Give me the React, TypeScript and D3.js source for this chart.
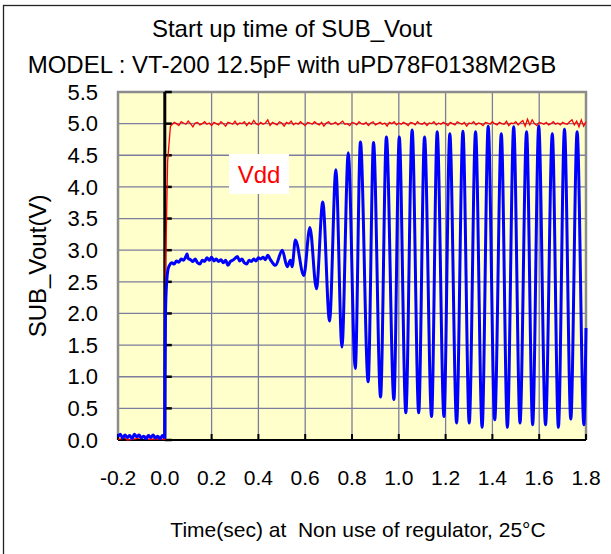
import React from "react";
import * as d3 from "d3";

// SUB_Vout trace, [time (s), volts]
const subVout: [number, number][] = [
  [-0.2, 0.05], [-0.19, 0.09], [-0.18, 0.03], [-0.17, 0.08], [-0.16, 0.04],
  [-0.15, 0.07], [-0.14, 0.02], [-0.13, 0.09], [-0.12, 0.05], [-0.11, 0.08],
  [-0.1, 0.03], [-0.09, 0.06], [-0.08, 0.02], [-0.07, 0.07], [-0.06, 0.04],
  [-0.05, 0.08], [-0.04, 0.03], [-0.03, 0.06], [-0.02, 0.02], [-0.01, 0.07],
  [0.0, 0.04], [0.001, 1.0], [0.003, 2.0], [0.008, 2.5], [0.014, 2.7],
  [0.02, 2.76], [0.03, 2.8], [0.04, 2.78], [0.05, 2.83], [0.06, 2.81],
  [0.07, 2.86], [0.08, 2.84], [0.09, 2.9], [0.095, 2.94], [0.1, 2.87],
  [0.11, 2.85], [0.12, 2.82], [0.13, 2.86], [0.14, 2.8], [0.15, 2.78],
  [0.16, 2.84], [0.17, 2.82], [0.18, 2.88], [0.19, 2.84], [0.2, 2.89],
  [0.21, 2.83], [0.22, 2.86], [0.23, 2.82], [0.24, 2.85], [0.25, 2.8],
  [0.26, 2.84], [0.27, 2.76], [0.28, 2.82], [0.29, 2.84], [0.3, 2.87],
  [0.31, 2.9], [0.32, 2.83], [0.33, 2.86], [0.34, 2.8], [0.35, 2.78],
  [0.36, 2.84], [0.37, 2.82], [0.38, 2.86], [0.39, 2.83], [0.4, 2.88],
  [0.41, 2.86], [0.42, 2.89], [0.43, 2.85], [0.44, 2.92], [0.45, 2.86],
  [0.473, 2.76], [0.502, 3.0], [0.523, 2.74], [0.537, 2.84], [0.544, 2.74],
  [0.558, 3.16], [0.594, 2.6], [0.62, 3.36], [0.648, 2.39], [0.675, 3.76],
  [0.704, 1.88], [0.731, 4.27], [0.757, 1.47], [0.784, 4.54], [0.814, 1.13],
  [0.836, 4.71], [0.869, 0.92], [0.892, 4.7], [0.922, 0.68], [0.947, 4.79],
  [0.979, 0.64], [1.002, 4.79], [1.03, 0.43], [1.057, 4.9], [1.085, 0.43],
  [1.11, 4.79], [1.14, 0.37], [1.164, 4.87], [1.193, 0.37], [1.218, 4.84],
  [1.247, 0.27], [1.274, 4.88], [1.301, 0.27], [1.328, 4.87], [1.356, 0.2],
  [1.382, 4.96], [1.41, 0.32], [1.438, 4.84], [1.464, 0.2], [1.491, 4.95],
  [1.518, 0.27], [1.546, 4.87], [1.572, 0.24], [1.598, 4.96], [1.627, 0.24],
  [1.656, 4.84], [1.682, 0.2], [1.708, 4.91], [1.735, 0.33], [1.762, 4.87],
  [1.791, 0.24], [1.8, 1.77],
];

// Vdd: the part before and during power-on
const vddEdgeT = [-0.2, -0.17, -0.16, -0.12, -0.08, -0.07, -0.03, 0.0, 0.004, 0.012, 0.024];
const vddEdgeV = [0.01, 0.03, 0.0, 0.02, 0.06, 0.01, 0.02, 0.01, 2.8, 4.4, 4.96];

// Vdd after power-on, sampled every 10 ms from 0.03 s
const vddStart = 0.03;
const vddStep = 0.01;
const vddSettled = [
  4.98, 5.02, 5.0, 4.97, 5.03, 5.01, 4.99, 5.04, 5.0, 4.95,
  5.01, 5.02, 4.98, 5.0, 5.03, 4.99, 5.01, 4.97, 5.02, 5.0,
  4.98, 5.03, 5.0, 4.96, 5.02, 5.01, 4.99, 5.04, 4.98, 5.01,
  5.0, 5.03, 4.97, 5.02, 4.99, 5.05, 5.0, 4.98, 5.02, 4.99,
  5.01, 5.06, 4.97, 5.02, 5.0, 4.98, 5.03, 5.01, 4.96, 5.02,
  5.0, 5.04, 4.98, 5.01, 4.99, 5.03, 5.0, 4.97, 5.02, 5.01,
  4.99, 5.03, 5.0, 4.98, 5.02, 4.96, 5.01, 5.03, 4.99, 5.0,
  5.02, 4.98, 5.01, 5.04, 4.99, 5.0, 4.97, 5.02, 5.01, 4.98,
  5.03, 5.0, 4.99, 5.02, 4.97, 5.01, 5.03, 4.98, 5.0, 5.02,
  4.99, 5.01, 4.96, 5.02, 5.0, 5.03, 4.98, 5.01, 4.99, 5.02,
  5.0, 4.97, 5.02, 5.01, 4.98, 5.03, 5.0, 4.99, 5.02, 4.97,
  5.01, 5.0, 5.03, 4.98, 5.01, 4.99, 5.02, 5.0, 4.97, 5.02,
  5.0, 4.98, 5.03, 5.01, 4.99, 5.02, 4.96, 5.01, 5.0, 5.03,
  4.98, 5.01, 5.0, 4.97, 5.02, 5.01, 4.99, 5.03, 5.0, 4.98,
  5.02, 5.0, 4.99, 5.04, 4.97, 5.01, 5.0, 5.03, 4.98, 5.02,
  5.05, 4.96, 5.07, 4.98, 5.06, 5.0, 4.97, 5.02, 5.01, 4.99,
  5.02, 4.98, 5.0, 5.03, 4.99, 5.01, 4.98, 5.02, 5.0, 4.99,
  5.03, 5.06, 4.98, 5.04, 4.95, 5.06, 4.96, 5.03,
];

const xTicks = [-0.2, 0.0, 0.2, 0.4, 0.6, 0.8, 1.0, 1.2, 1.4, 1.6, 1.8];
const yTicks = [0.0, 0.5, 1.0, 1.5, 2.0, 2.5, 3.0, 3.5, 4.0, 4.5, 5.0, 5.5];

const titleLines = ["Start up time of SUB_Vout", "MODEL : VT-200 12.5pF with uPD78F0138M2GB"];
const xTitle = "Time(sec) at  Non use of regulator, 25\u00B0C";
const yTitle = "SUB_Vout(V)";
const seriesLabel = "Vdd";

const font = "'Liberation Sans', Arial, sans-serif";

export default function App() {
  const plot = { left: 118, right: 586, top: 92, bottom: 440 };

  const x = d3.scaleLinear().domain([-0.2, 1.8]).range([plot.left, plot.right]);
  const y = d3.scaleLinear().domain([0, 5.5]).range([plot.bottom, plot.top]);

  const vdd: [number, number][] = [
    ...vddEdgeT.map((t, i) => [t, vddEdgeV[i]] as [number, number]),
    ...vddSettled.map((v, i) => [vddStart + i * vddStep, v] as [number, number]),
  ];

  const sharp = d3
    .line<[number, number]>()
    .x((d) => x(d[0]))
    .y((d) => y(d[1]));

  const smooth = d3
    .line<[number, number]>()
    .x((d) => x(d[0]))
    .y((d) => y(d[1]))
    .curve(d3.curveMonotoneX);

  const gridX = xTicks.filter((t) => t > 0 && t < 1.8);
  const gridY = yTicks.filter((t) => t > 0 && t < 5.5);

  return (
    <svg
      width={611}
      height={554}
      style={{ position: "absolute", left: 0, top: 0, background: "#fff" }}
      fontFamily={font}
    >
      <rect x={3.5} y={5.5} width={700} height={700} fill="#fff" stroke="#222" strokeWidth={1.3} />

      {titleLines.map((s, i) => (
        <text key={s} x={292} y={37 + i * 36} textAnchor="middle" fontSize={24} fill="#000">
          {s}
        </text>
      ))}

      <rect
        x={plot.left}
        y={plot.top}
        width={plot.right - plot.left}
        height={plot.bottom - plot.top}
        fill="#ffffcc"
      />

      {gridY.map((v) => (
        <line key={"gy" + v} x1={plot.left} x2={plot.right} y1={y(v)} y2={y(v)} stroke="#7c7c9c" strokeWidth={1.3} />
      ))}
      {gridX.map((t) => (
        <line key={"gx" + t} x1={x(t)} x2={x(t)} y1={plot.top} y2={plot.bottom} stroke="#7c7c9c" strokeWidth={1.3} />
      ))}

      {/* plot frame */}
      <path
        d={`M${plot.left},${plot.bottom}V${plot.top}H${plot.right}V${plot.bottom}`}
        fill="none"
        stroke="#8c8c8c"
        strokeWidth={2.5}
      />

      {/* bottom axis with ticks pointing up */}
      <line x1={plot.left} x2={plot.right} y1={plot.bottom} y2={plot.bottom} stroke="#000" strokeWidth={2} />
      {xTicks.map((t) => (
        <line key={"xt" + t} x1={x(t)} x2={x(t)} y1={plot.bottom} y2={plot.bottom - 6} stroke="#000" strokeWidth={2} />
      ))}

      {/* value axis at t = 0 */}
      <line x1={x(0)} x2={x(0)} y1={plot.top} y2={plot.bottom} stroke="#000" strokeWidth={3} />
      {yTicks.map((v) => (
        <line key={"yt" + v} x1={x(0)} x2={x(0) + 7} y1={y(v)} y2={y(v)} stroke="#000" strokeWidth={2.5} />
      ))}

      {/* label box */}
      <rect x={229} y={154} width={60} height={40} fill="#fff" />
      <text x={259} y={183} textAnchor="middle" fontSize={24} fill="#ff0000">
        {seriesLabel}
      </text>

      <path d={sharp(vdd) ?? ""} fill="none" stroke="#ff0000" strokeWidth={1.3} />
      <path d={smooth(subVout) ?? ""} fill="none" stroke="#0000ff" strokeWidth={3} strokeLinejoin="round" />

      {yTicks.map((v) => (
        <text key={"yl" + v} x={98} y={y(v)} dy="0.35em" textAnchor="end" fontSize={22} fill="#000">
          {v.toFixed(1)}
        </text>
      ))}
      {xTicks.map((t) => (
        <text key={"xl" + t} x={x(t)} y={485} textAnchor="middle" fontSize={21} fill="#000">
          {t.toFixed(1)}
        </text>
      ))}

      <text
        transform={`translate(46,${(plot.top + plot.bottom) / 2}) rotate(-90)`}
        textAnchor="middle"
        fontSize={24}
        fill="#000"
      >
        {yTitle}
      </text>

      <text x={358} y={537} textAnchor="middle" fontSize={21} fill="#000" style={{ whiteSpace: "pre" }}>
        {xTitle}
      </text>
    </svg>
  );
}
